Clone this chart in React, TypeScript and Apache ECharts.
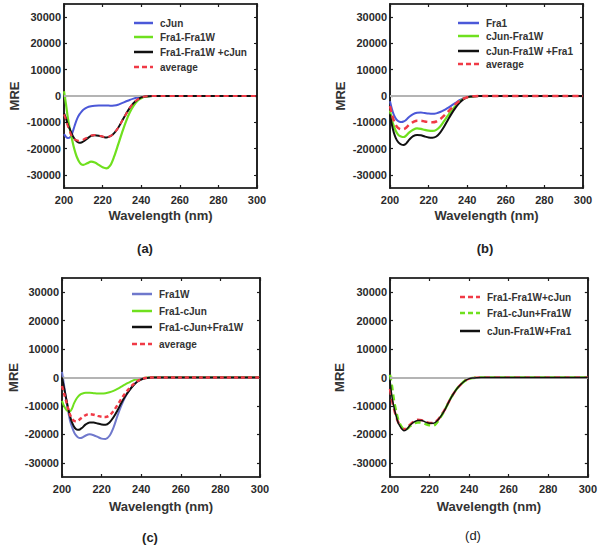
import React, { useEffect, useRef } from "react";
import * as echarts from "echarts";

// ---------- DATA ----------
const wavelength = [200, 201, 202, 203, 204, 205, 206, 207, 208, 209, 210, 212, 214, 216, 218, 220, 222, 224, 226, 228, 230, 232, 234, 236, 238, 240, 242, 244, 246, 250, 260, 270, 280, 290, 300];

const yTickValues = [-30000, -20000, -10000, 0, 10000, 20000, 30000];
const xTickLabels = [200, 220, 240, 260, 280, 300];

// (a)
const a_names = ["cJun", "Fra1-Fra1W", "Fra1-Fra1W +cJun", "average"];
const a_cJun = [-14500, -15500, -16000, -15800, -14700, -12500, -10200, -8300, -7000, -6000, -5200, -4300, -3900, -3700, -3600, -3600, -3600, -3700, -3600, -3300, -2700, -2100, -1500, -1000, -600, -300, -100, -50, 0, 0, 0, 0, 0, 0, 0];
const a_fra1Fra1W = [1800, -3000, -8300, -12500, -16000, -19200, -21800, -23800, -25200, -26000, -26200, -25600, -25000, -25300, -26200, -27100, -27500, -26400, -23000, -18600, -14100, -9900, -6400, -3800, -1900, -900, -300, -100, 0, 0, 0, 0, 0, 0, 0];
const a_mix = [-6500, -8500, -10900, -12500, -14300, -15800, -16800, -17500, -17800, -17700, -17300, -16200, -15200, -14900, -15100, -15500, -15800, -15300, -14100, -12200, -9600, -7000, -4600, -2700, -1400, -500, -150, -50, 0, 0, 0, 0, 0, 0, 0];
const a_average = [-7000, -9000, -11500, -13500, -15300, -16300, -16700, -16900, -17000, -16900, -16600, -15800, -15000, -14800, -15000, -15400, -15700, -15300, -14100, -12200, -9600, -7000, -4600, -2700, -1400, -550, -150, -50, 0, 0, 0, 0, 0, 0, 0];

// (b)
const b_names = ["Fra1", "cJun-Fra1W", "cJun-Fra1W +Fra1", "average"];
const b_fra1 = [-2000, -5000, -7200, -8600, -9400, -9800, -9900, -9700, -9300, -8600, -7900, -6900, -6400, -6300, -6500, -6700, -6800, -6600, -6100, -5400, -4500, -3600, -2600, -1600, -900, -400, -150, -50, 0, 0, 0, 0, 0, 0, 0];
const b_cJunFra1W = [-5500, -9000, -11500, -13300, -14500, -15200, -15500, -15600, -15300, -14600, -13800, -12800, -12300, -12500, -12900, -13200, -13300, -12900, -11600, -9600, -7500, -5500, -3700, -2200, -1100, -500, -200, -50, 0, 0, 0, 0, 0, 0, 0];
const b_mix = [-7000, -11000, -14000, -16000, -17300, -18100, -18500, -18600, -18300, -17500, -16600, -15300, -14800, -14900, -15400, -15800, -15900, -15400, -13900, -11700, -9100, -6600, -4400, -2600, -1300, -500, -200, -50, 0, 0, 0, 0, 0, 0, 0];
const b_average = [-3800, -7000, -9400, -11000, -12000, -12500, -12700, -12600, -12300, -11600, -10800, -9900, -9400, -9400, -9700, -9900, -10000, -9700, -8800, -7500, -6000, -4500, -3100, -1900, -1000, -450, -150, -50, 0, 0, 0, 0, 0, 0, 0];

// (c)
const c_names = ["Fra1W", "Fra1-cJun", "Fra1-cJun+Fra1W", "average"];
const c_fra1W = [2000, -2500, -7300, -11500, -15000, -17300, -19100, -20300, -21000, -21300, -21200, -20400, -20000, -20300, -20900, -21500, -21600, -20500, -17600, -13500, -9800, -6800, -4500, -2700, -1400, -600, -200, -50, 0, 0, 0, 0, 0, 0, 0];
const c_fra1cJun = [-8200, -10000, -11200, -11800, -11900, -11000, -9200, -7800, -6800, -6100, -5700, -5400, -5400, -5500, -5600, -5600, -5500, -5200, -4700, -4000, -3200, -2400, -1700, -1000, -600, -300, -100, 0, 0, 0, 0, 0, 0, 0, 0];
const c_mix = [0, -3500, -7000, -10500, -13500, -15700, -17200, -18100, -18400, -18300, -17800, -16500, -15800, -15800, -16200, -16500, -16600, -15800, -14000, -11600, -8900, -6500, -4500, -2800, -1500, -700, -250, -50, 0, 0, 0, 0, 0, 0, 0];
const c_average = [-3000, -5500, -8000, -10800, -13000, -14400, -15200, -15400, -15200, -14700, -14100, -13200, -12900, -13100, -13500, -13800, -13900, -13300, -11800, -9700, -7500, -5500, -3800, -2400, -1300, -600, -200, -50, 0, 0, 0, 0, 0, 0, 0];

// (d)
const d_names = ["Fra1-Fra1W+cJun", "Fra1-cJun+Fra1W", "cJun-Fra1W+Fra1"];
const d_fra1Fra1WcJun = [-4000, -8000, -11000, -13500, -15500, -16900, -17800, -18200, -18000, -17400, -16700, -15500, -14900, -15000, -15600, -16000, -16000, -15000, -13200, -10900, -8200, -5800, -3800, -2300, -1100, -400, -150, -50, 0, 0, 0, 0, 0, 0, 0];
const d_fra1cJunFra1W = [1000, -3000, -8000, -11500, -14500, -16300, -17500, -18200, -18300, -17900, -17200, -16200, -15800, -15900, -16400, -16800, -16900, -15600, -13500, -11000, -8200, -5800, -3800, -2300, -1100, -400, -150, -50, 0, 0, 0, 0, 0, 0, 0];
const d_cJunFra1WFra1 = [-800, -6800, -10400, -13300, -15700, -17100, -18100, -18700, -18500, -17800, -16900, -15700, -15100, -15100, -15700, -16100, -16100, -15100, -13300, -11000, -8200, -5800, -3800, -2300, -1100, -400, -150, -50, 0, 0, 0, 0, 0, 0, 0];

const panelLetters = ["(a)", "(b)", "(c)", "(d)"];
const xAxisTitle = "Wavelength (nm)";
const yAxisTitle = "MRE";

// ---------- STYLE ----------
const FONT = "'Liberation Sans', Arial, sans-serif";
const BLUE = "#4b58d8";
const LAVENDER = "#6f78cc";
const GREEN = "#6fe01e";
const BLACK = "#111111";
const RED = "#f03a46";
const AXIS = "#1c1c1c";
const TEXT = "#2a2a2a";

type S = { name: string; data: number[]; color: string; width: number; dash?: number[] };

const panels = [
  {
    grid: { left: 64, top: 4, width: 193, height: 184 },
    yNameGap: 43, xNameGap: 21,
    letter: { x: 145, y: 248, weight: "bold" },
    legend: { x1: 134, x2: 153, tx: 160, ys: [23, 37, 52, 67] },
    series: [
      { name: a_names[0], data: a_cJun, color: BLUE, width: 2 },
      { name: a_names[1], data: a_fra1Fra1W, color: GREEN, width: 2.2 },
      { name: a_names[2], data: a_mix, color: BLACK, width: 2 },
      { name: a_names[3], data: a_average, color: RED, width: 2, dash: [5, 4] },
    ] as S[],
  },
  {
    grid: { left: 390, top: 4, width: 193, height: 184 },
    yNameGap: 43, xNameGap: 21,
    letter: { x: 485, y: 248, weight: "bold" },
    legend: { x1: 458, x2: 479, tx: 486, ys: [23, 36, 51, 64] },
    series: [
      { name: b_names[0], data: b_fra1, color: BLUE, width: 2 },
      { name: b_names[1], data: b_cJunFra1W, color: GREEN, width: 2.2 },
      { name: b_names[2], data: b_mix, color: BLACK, width: 2 },
      { name: b_names[3], data: b_average, color: RED, width: 2.5, dash: [6, 4] },
    ] as S[],
  },
  {
    grid: { left: 62, top: 278, width: 198, height: 199 },
    yNameGap: 42, xNameGap: 23,
    letter: { x: 150, y: 537, weight: "bold" },
    legend: { x1: 132, x2: 152, tx: 159, ys: [294, 311, 327, 344] },
    series: [
      { name: c_names[0], data: c_fra1W, color: LAVENDER, width: 2 },
      { name: c_names[1], data: c_fra1cJun, color: GREEN, width: 2 },
      { name: c_names[2], data: c_mix, color: BLACK, width: 2 },
      { name: c_names[3], data: c_average, color: RED, width: 2.5, dash: [4, 3] },
    ] as S[],
  },
  {
    grid: { left: 390, top: 278, width: 198, height: 199 },
    yNameGap: 44, xNameGap: 23,
    letter: { x: 473, y: 535, weight: "normal" },
    legend: { x1: 460, x2: 480, tx: 487, ys: [297, 313, 331] },
    series: [
      { name: d_names[0], data: d_fra1Fra1WcJun, color: RED, width: 2.5, dash: [6, 4] },
      { name: d_names[1], data: d_fra1cJunFra1W, color: GREEN, width: 2.5, dash: [6, 4] },
      { name: d_names[2], data: d_cJunFra1WFra1, color: BLACK, width: 1.5 },
    ] as S[],
  },
];

function buildOption() {
  const grid: any[] = [];
  const xAxis: any[] = [];
  const yAxis: any[] = [];
  const series: any[] = [];
  const graphic: any[] = [];

  panels.forEach((p, i) => {
    grid.push({ ...p.grid, show: true, borderColor: AXIS, borderWidth: 1.2, backgroundColor: "transparent" });
    const xBase = {
      gridIndex: i, type: "value", min: xTickLabels[0], max: xTickLabels[xTickLabels.length - 1], interval: 20,
      splitLine: { show: false },
      axisLine: { show: true, onZero: false, lineStyle: { color: AXIS, width: 1.5 } },
      axisTick: { show: true, inside: true, length: 3, lineStyle: { color: AXIS, width: 1.2 } },
    };
    xAxis.push({
      ...xBase, position: "bottom",
      axisLabel: { color: TEXT, fontSize: 11, fontWeight: "bold", fontFamily: FONT, margin: 6 },
      name: xAxisTitle, nameLocation: "middle", nameGap: p.xNameGap,
      nameTextStyle: { color: "#333", fontSize: 13, fontWeight: "bold", fontFamily: FONT },
    });
    xAxis.push({ ...xBase, position: "top", axisLabel: { show: false } });
    const yBase = {
      gridIndex: i, type: "value", min: -35000, max: 35000,
      splitLine: { show: false },
      axisLine: { show: true, onZero: false, lineStyle: { color: AXIS, width: 1.8 } },
      axisTick: { show: true, inside: true, length: 3, customValues: yTickValues, lineStyle: { color: AXIS, width: 1.2 } },
    };
    yAxis.push({
      ...yBase, position: "left",
      axisLabel: {
        customValues: yTickValues, color: TEXT, fontSize: 11, fontWeight: "bold", fontFamily: FONT, margin: 3,
        formatter: (v: number) => String(Math.round(v)),
      },
      name: yAxisTitle, nameLocation: "middle", nameGap: p.yNameGap, nameRotate: 90,
      nameTextStyle: { color: "#333", fontSize: 13, fontWeight: "bold", fontFamily: FONT },
    });
    yAxis.push({ ...yBase, position: "right", axisLabel: { show: false } });

    const xi = i * 2;
    const yi = i * 2;
    // zero reference line
    series.push({
      type: "line", name: "zero" + i, xAxisIndex: xi, yAxisIndex: yi, data: [], z: 1, silent: true,
      markLine: {
        silent: true, symbol: "none", label: { show: false },
        lineStyle: { color: "#b4b4b4", width: 2, type: "solid" },
        data: [{ yAxis: 0 }],
      },
    });
    p.series.forEach((s, k) => {
      series.push({
        type: "line", name: s.name, xAxisIndex: xi, yAxisIndex: yi, z: 3 + k,
        data: wavelength.map((w, j) => [w, s.data[j]]),
        showSymbol: false, symbol: "none", smooth: 0.3,
        lineStyle: { color: s.color, width: s.width, type: s.dash ? s.dash : "solid", cap: "butt" },
      });
      const y = p.legend.ys[k];
      graphic.push({
        type: "line", silent: true,
        shape: { x1: p.legend.x1, y1: y, x2: p.legend.x2, y2: y },
        style: { stroke: s.color, lineWidth: 2.5, lineDash: s.dash ? [5, 3] : null },
      });
      graphic.push({
        type: "text", silent: true,
        style: { text: s.name, x: p.legend.tx, y, verticalAlign: "middle", align: "left", fill: "#333", fontSize: 10, fontWeight: "bold", fontFamily: FONT },
      });
    });
    graphic.push({
      type: "text", silent: true,
      style: { text: panelLetters[i], x: p.letter.x, y: p.letter.y, align: "center", verticalAlign: "middle", fill: "#222", fontSize: 13, fontWeight: p.letter.weight, fontFamily: FONT },
    });
  });

  return { animation: false, backgroundColor: "#ffffff", grid, xAxis, yAxis, series, graphic };
}

export default function App() {
  const ref = useRef<HTMLDivElement>(null);
  useEffect(() => {
    document.body.style.margin = "0";
    if (!ref.current) return;
    const chart = echarts.init(ref.current, undefined, { renderer: "svg" });
    chart.setOption(buildOption() as any);
    return () => chart.dispose();
  }, []);
  return <div ref={ref} style={{ width: 600, height: 548 }} />;
}
